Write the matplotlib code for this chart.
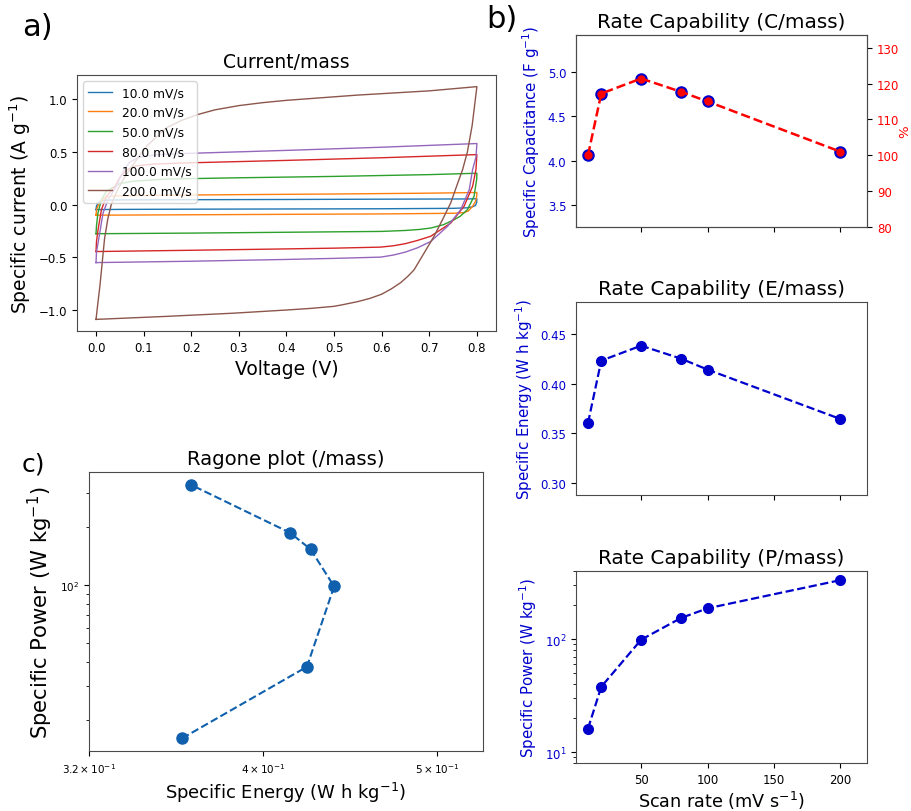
import matplotlib
matplotlib.use("Agg")
import matplotlib.pyplot as plt
import matplotlib.ticker as mticker

# ---- panel a: CV loops (forward sweep then reverse sweep) ----
rates = [10.0, 20.0, 50.0, 80.0, 100.0, 200.0]

v_fwd_10 = [0.0, 0.001, 0.004, 0.008, 0.018, 0.05, 0.2, 0.4, 0.6, 0.78, 0.8]
i_fwd_10 = [-0.047, -0.012, 0.015, 0.03, 0.042, 0.045, 0.047, 0.049, 0.052, 0.054, 0.056]
v_rev_10 = [0.8, 0.7995, 0.797, 0.79, 0.78, 0.75, 0.6, 0.4, 0.2, 0.05, 0.0]
i_rev_10 = [0.056, 0.02, -0.008, -0.022, -0.03, -0.035, -0.039, -0.041, -0.043, -0.045, -0.047]

v_fwd_20 = [0.0, 0.001, 0.004, 0.008, 0.018, 0.032, 0.1, 0.3, 0.5, 0.7, 0.8]
i_fwd_20 = [-0.10, -0.05, -0.01, 0.02, 0.065, 0.082, 0.088, 0.095, 0.101, 0.109, 0.115]
v_rev_20 = [0.8, 0.7995, 0.797, 0.791, 0.782, 0.773, 0.75, 0.6, 0.4, 0.2, 0.0]
i_rev_20 = [0.115, 0.079, 0.03, -0.016, -0.06, -0.076, -0.082, -0.088, -0.092, -0.096, -0.10]

v_fwd_50 = [0.0, 0.001, 0.004, 0.0114, 0.0219, 0.0358, 0.05, 0.078, 0.148, 0.3, 0.5, 0.7, 0.8]
i_fwd_50 = [-0.276, -0.2, -0.08, 0.048, 0.127, 0.165, 0.2, 0.222, 0.243, 0.255, 0.268, 0.285, 0.298]
v_rev_50 = [0.8, 0.7995, 0.794, 0.78, 0.765, 0.752, 0.73, 0.703, 0.68, 0.65, 0.6, 0.4, 0.2, 0.0]
i_rev_50 = [0.298, 0.238, 0.079, -0.048, -0.11, -0.143, -0.19, -0.222, -0.235, -0.245, -0.254,
            -0.262, -0.27, -0.276]

v_fwd_80 = [0.0, 0.001, 0.0042, 0.0114, 0.0219, 0.04, 0.05, 0.065, 0.08, 0.12, 0.197, 0.4, 0.6, 0.8]
i_fwd_80 = [-0.445, -0.35, -0.24, -0.048, 0.08, 0.174, 0.26, 0.33, 0.365, 0.385, 0.397, 0.42, 0.445,
            0.475]
v_rev_80 = [0.8, 0.798, 0.791, 0.773, 0.745, 0.703, 0.675, 0.65, 0.625, 0.598, 0.5, 0.4, 0.2, 0.0]
i_rev_80 = [0.475, 0.333, 0.174, -0.016, -0.175, -0.30, -0.34, -0.37, -0.39, -0.403, -0.413, -0.42,
            -0.433, -0.445]

v_fwd_100 = [0.0, 0.001, 0.0078, 0.0147, 0.0253, 0.043, 0.055, 0.07, 0.09, 0.13, 0.19, 0.4, 0.6, 0.8]
i_fwd_100 = [-0.55, -0.45, -0.27, -0.08, 0.048, 0.174, 0.3, 0.4, 0.45, 0.475, 0.486, 0.515, 0.545, 0.58]
v_rev_100 = [0.8, 0.798, 0.791, 0.784, 0.766, 0.738, 0.703, 0.675, 0.65, 0.625, 0.598, 0.5, 0.4, 0.2,
             0.0]
i_rev_100 = [0.58, 0.45, 0.333, 0.143, -0.048, -0.207, -0.35, -0.41, -0.45, -0.478, -0.498, -0.51,
             -0.52, -0.537, -0.55]

v_fwd_200 = [0.0, 0.004, 0.008, 0.013, 0.018, 0.025, 0.032, 0.046, 0.06, 0.078, 0.106, 0.148, 0.18,
             0.215, 0.25, 0.3, 0.35, 0.4, 0.55, 0.7, 0.8]
i_fwd_200 = [-1.089, -0.93, -0.78, -0.55, -0.32, -0.13, 0.0, 0.15, 0.26, 0.38, 0.555, 0.73, 0.80,
             0.857, 0.9, 0.94, 0.968, 0.99, 1.04, 1.08, 1.12]
v_rev_200 = [0.8, 0.79, 0.78, 0.77, 0.757, 0.745, 0.728, 0.71, 0.689, 0.668, 0.655, 0.64, 0.62, 0.6,
             0.575, 0.55, 0.52, 0.5, 0.45, 0.4, 0.289, 0.15, 0.0]
i_rev_200 = [1.12, 0.75, 0.5, 0.333, 0.17, 0.016, -0.14, -0.30, -0.46, -0.619, -0.68, -0.74, -0.80,
             -0.85, -0.89, -0.92, -0.948, -0.965, -0.985, -1.0, -1.03, -1.06, -1.089]

cv_loops = [
    (v_fwd_10 + v_rev_10[1:], i_fwd_10 + i_rev_10[1:]),
    (v_fwd_20 + v_rev_20[1:], i_fwd_20 + i_rev_20[1:]),
    (v_fwd_50 + v_rev_50[1:], i_fwd_50 + i_rev_50[1:]),
    (v_fwd_80 + v_rev_80[1:], i_fwd_80 + i_rev_80[1:]),
    (v_fwd_100 + v_rev_100[1:], i_fwd_100 + i_rev_100[1:]),
    (v_fwd_200 + v_rev_200[1:], i_fwd_200 + i_rev_200[1:]),
]

# ---- panel b / c: rate capability ----
scan_rate = [10, 20, 50, 80, 100, 200]
capacitance = [4.06, 4.76, 4.93, 4.78, 4.67, 4.10]
retention = [100.0, 117.2, 121.4, 117.7, 115.0, 101.0]
energy = [0.3605, 0.423, 0.438, 0.425, 0.414, 0.3645]
power = [16.1, 37.8, 98.6, 153.5, 187.0, 332.0]

BLUE = "mediumblue"
RAGONE = "#1060ad"
SPINE = "#4a4a4a"

fig = plt.figure(figsize=(9.12, 8.12), dpi=100)


def style(ax):
    for s in ax.spines.values():
        s.set_color(SPINE)


# a) CV curves
ax_a = fig.add_axes([0.0844, 0.5911, 0.4594, 0.3153])
for (v, i), r in zip(cv_loops, rates):
    ax_a.plot(v, i, lw=1.0, label=f"{r:.1f} mV/s")
ax_a.set_title("Current/mass", fontsize=13.5)
ax_a.set_xlabel("Voltage (V)", fontsize=13.5)
ax_a.set_ylabel(r"Specific current (A g$^{-1}$)", fontsize=13.5)
ax_a.tick_params(labelsize=8.5)
ax_a.legend(loc="upper left", fontsize=8.8, labelspacing=0.55)
style(ax_a)

# b) rate capability panels
ax_b1 = fig.add_axes([0.6316, 0.7192, 0.3191, 0.2365])
ax_b1.plot(scan_rate, capacitance, "o", color=BLUE, ms=8)
ax_b1.set_ylim(0.8 * capacitance[0], 1.1 * max(capacitance))
ax_b1.set_xlim(1, 220)
ax_b1.set_title("Rate Capability (C/mass)", fontsize=14.4)
ax_b1.set_ylabel(r"Specific Capacitance (F g$^{-1}$)", color=BLUE, fontsize=10.8)
ax_b1.tick_params(axis="y", labelcolor=BLUE, labelsize=8.5)
ax_b1.tick_params(axis="x", labelbottom=False)
ax_r = ax_b1.twinx()
ax_r.plot(scan_rate, retention, "o--", color="red", ms=5, lw=1.8)
ax_r.set_ylim(80, 1.1 * max(retention))
ax_r.set_ylabel("%", color="red", fontsize=9.5)
ax_r.yaxis.set_label_coords(1.108, 0.5)
ax_r.tick_params(axis="y", labelcolor="red", labelsize=8.5)
style(ax_b1)
style(ax_r)

ax_b2 = fig.add_axes([0.6316, 0.3892, 0.3191, 0.2377])
ax_b2.plot(scan_rate, energy, "o--", color=BLUE, ms=7, lw=1.6)
ax_b2.set_ylim(0.8 * energy[0], 1.1 * max(energy))
ax_b2.yaxis.set_major_locator(mticker.MultipleLocator(0.05))
ax_b2.set_xlim(1, 220)
ax_b2.set_title("Rate Capability (E/mass)", fontsize=14.4)
ax_b2.set_ylabel(r"Specific Energy (W h kg$^{-1}$)", color=BLUE, fontsize=10.8)
ax_b2.tick_params(axis="y", labelcolor=BLUE, labelsize=8.5)
ax_b2.tick_params(axis="x", labelbottom=False)
style(ax_b2)

ax_b3 = fig.add_axes([0.6316, 0.0591, 0.3191, 0.2365])
ax_b3.plot(scan_rate, power, "o--", color=BLUE, ms=7, lw=1.6)
ax_b3.set_yscale("log")
ax_b3.set_ylim(8, 400)
ax_b3.set_xlim(1, 220)
ax_b3.set_title("Rate Capability (P/mass)", fontsize=14.4)
ax_b3.set_ylabel(r"Specific Power (W kg$^{-1}$)", color=BLUE, fontsize=10.8)
ax_b3.set_xlabel(r"Scan rate (mV s$^{-1}$)", fontsize=12.7, labelpad=2)
ax_b3.tick_params(axis="y", which="both", labelcolor=BLUE, labelsize=8.5)
ax_b3.tick_params(axis="x", labelsize=8.5)
style(ax_b3)

# c) Ragone plot
ax_c = fig.add_axes([0.0976, 0.0739, 0.432, 0.3436])
ax_c.plot(energy, power, "o--", color=RAGONE, ms=8, lw=1.5)
ax_c.set_xscale("log")
ax_c.set_yscale("log")
ax_c.set_xlim(0.32, 0.53)
ax_c.set_xticks([0.32, 0.4, 0.5])
ax_c.set_xticklabels([r"$\mathdefault{3.2\times10^{-1}}$", r"$\mathdefault{4\times10^{-1}}$",
                      r"$\mathdefault{5\times10^{-1}}$"])
ax_c.xaxis.set_minor_locator(mticker.NullLocator())
ax_c.set_title("Ragone plot (/mass)", fontsize=14.1)
ax_c.set_xlabel(r"Specific Energy (W h kg$^{-1}$)", fontsize=13)
ax_c.set_ylabel(r"Specific Power (W kg$^{-1}$)", fontsize=15.2)
ax_c.tick_params(which="both", labelsize=7.5)
style(ax_c)

fig.text(22 / 912, 1 - 28 / 812, "a)", fontsize=22, va="center")
fig.text(486 / 912, 1 - 20 / 812, "b)", fontsize=22, va="center")
fig.text(22 / 912, 1 - 465 / 812, "c)", fontsize=18, va="center")

fig.savefig("out.png", dpi=100)
